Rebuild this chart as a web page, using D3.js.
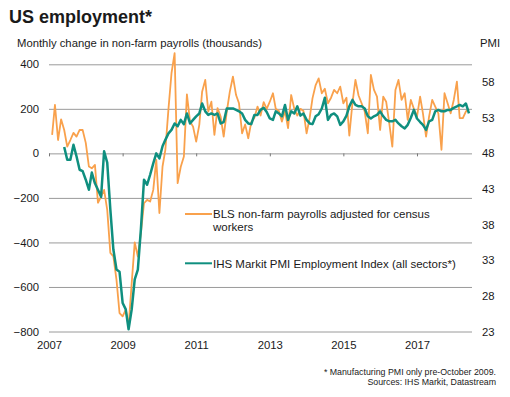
<!DOCTYPE html>
<html>
<head>
<meta charset="utf-8">
<script src="https://cdn.jsdelivr.net/npm/d3@7"></script>
<style>
  body { margin: 0; background: #fff; }
  text { font-family: "Liberation Sans", Arial, sans-serif; fill: #1a1a1a; }
</style>
</head>
<body>
<div class="chart-area"></div>
<script>
// monthly data, payrolls start Feb 2007, PMI starts Jun 2007
let payrollStart = new Date(2007, 1, 1);
let payrolls = [83, 218, 60, 153, 105, 30, 60, 92, 75, 105, 105, 47, -59, -67, -52, -222, -194, -164, -254, -447,
  -463, -568, -717, -732, -702, -777, -583, -400, -463, -358, -224, -209, -216, -164, -29, -268, -59, 16, 200, 360,
  450, -134, -60, -14, 265, 143, 120, 53, 128, 277, 330, 188, 232, 83, 203, 165, 75, 188, 277, 345,
  262, 225, 90, 130, 68, 140, 160, 210, 170, 230, 200, 232, 270, 200, 190, 143, 190, 113, 262, 200,
  170, 200, 190, 90, 160, 248, 307, 337, 270, 290, 225, 250, 285, 270, 300, 225, 250, 80, 225, 330,
  260, 225, 188, 90, 352, 285, 255, 105, 255, 232, 135, 30, 285, 330, 240, 270, 150, 240, 200, 165,
  255, 180, 75, 165, 240, 210, 180, 16, 270, 225, 180, 240, 322, 158, 158, 188, 200];

let pmiStart = new Date(2007, 5, 1);
let pmi = [48.9, 47.1, 47.1, 49.2, 47.6, 45.7, 45.5, 44.3, 42.9, 45.3, 43.8, 42.9, 41.9, 48.3, 46.7, 40.1,
  34.5, 31.7, 31.4, 27.0, 26.1, 23.3, 26.1, 30.3, 31.7, 37.3, 44.3, 43.6, 45.0, 46.6, 48.0, 47.3,
  49.0, 49.9, 50.8, 51.3, 52.2, 51.8, 52.7, 52.1, 53.6, 52.2, 52.7, 53.2, 53.6, 55.0, 53.9, 53.4,
  53.6, 53.4, 53.6, 52.2, 52.4, 54.3, 54.3, 54.3, 54.1, 53.9, 53.6, 52.7, 52.2, 52.1, 53.4, 53.4,
  54.1, 54.4, 53.8, 52.9, 52.7, 53.9, 53.6, 53.2, 54.8, 52.7, 53.9, 53.6, 54.6, 53.3, 53.6, 52.7,
  52.2, 52.1, 53.2, 53.5, 54.3, 55.8, 52.7, 53.4, 53.6, 53.2, 52.0, 52.5, 53.3, 54.6, 55.5, 54.8,
  54.6, 54.6, 54.3, 53.2, 52.9, 53.2, 53.4, 53.9, 53.2, 52.7, 52.5, 52.5, 52.7, 52.2, 51.8, 51.5,
  52.0, 53.0, 54.1, 52.9, 52.4, 52.0, 51.3, 52.5, 52.7, 53.9, 54.1, 53.9, 53.9, 54.1, 54.1, 54.4,
  54.6, 54.8, 54.6, 55.0, 53.6];

let leftTicks = [400, 200, 0, -200, -400, -600, -800];
let rightTicks = [58, 53, 48, 43, 38, 33, 28, 23];
let yearTicks = [2007, 2009, 2011, 2013, 2015, 2017];

let payrollData = payrolls.map((v, i) => ({date: d3.timeMonth.offset(payrollStart, i), value: v}));
let pmiData = pmi.map((v, i) => ({date: d3.timeMonth.offset(pmiStart, i), value: v}));

let outerWidth = 510, outerHeight = 397;
let plotLeft = 49, plotRight = 472, plotTop = 64.3, plotBottom = 331.5;

let svg = d3.select('.chart-area').append('svg')
  .attr('width', outerWidth)
  .attr('height', outerHeight);

let xScale = d3.scaleTime()
  .domain([new Date(2007, 0, 1), new Date(2018, 6, 1)])
  .range([plotLeft, plotRight]);

let yScale = d3.scaleLinear()
  .domain([-800, 400])
  .range([plotBottom, plotTop]);

// PMI 48 sits on the zero line, 25 points span 800k
let yRight = d3.scaleLinear()
  .domain([23, 60.5])
  .range([plotBottom, plotTop]);

// gridlines + left labels
let yAxis = d3.axisLeft(yScale).tickValues(leftTicks).tickSize(-(plotRight - plotLeft)).tickPadding(10);
let yaxis = svg.append('g')
  .attr('transform', `translate(${plotLeft},0)`)
  .call(yAxis);
yaxis.select('.domain').remove();
yaxis.selectAll('.tick line').attr('stroke', '#9a9a9a').attr('stroke-width', 1);
yaxis.selectAll('.tick text').attr('font-size', 11.3).attr('x', -10);

let yAxisR = d3.axisRight(yRight).tickValues(rightTicks).tickSize(0).tickPadding(10);
let yaxisR = svg.append('g')
  .attr('transform', `translate(${plotRight},0)`)
  .call(yAxisR);
yaxisR.select('.domain').remove();
yaxisR.selectAll('.tick text').attr('font-size', 11.3);

// small year ticks on the zero line
let xTicks = svg.append('g')
  .attr('transform', `translate(0,${yScale(0)})`)
  .call(d3.axisBottom(xScale).tickValues(yearTicks.map(y => new Date(y, 0, 1))).tickSize(3).tickFormat(''));
xTicks.select('.domain').remove();
xTicks.selectAll('.tick line').attr('stroke', '#777');

let xLabels = svg.append('g')
  .attr('transform', `translate(0,${plotBottom})`)
  .call(d3.axisBottom(xScale).tickValues(yearTicks.map(y => new Date(y, 0, 1))).tickSize(0).tickPadding(9).tickFormat(d3.timeFormat('%Y')));
xLabels.select('.domain').remove();
xLabels.selectAll('.tick text').attr('font-size', 11.3);

svg.selectAll('.tick text').attr('fill', '#1a1a1a');

// lines
let payLine = d3.line()
  .x(d => xScale(d.date))
  .y(d => yScale(d.value));

let pmiLine = d3.line()
  .x(d => xScale(d.date))
  .y(d => yRight(d.value));

let orange = '#f9a14c', teal = '#0f8f7f';

svg.append('path')
  .datum(payrollData)
  .attr('fill', 'none')
  .attr('stroke', orange)
  .attr('stroke-width', 1.8)
  .attr('stroke-linejoin', 'round')
  .attr('d', payLine);

svg.append('path')
  .datum(pmiData)
  .attr('fill', 'none')
  .attr('stroke', teal)
  .attr('stroke-width', 2.5)
  .attr('stroke-linejoin', 'round')
  .attr('d', pmiLine);

// titles
svg.append('text')
  .attr('x', 9).attr('y', 23.3)
  .attr('font-size', 18)
  .attr('font-weight', 'bold')
  .text('US employment*');

svg.append('text')
  .attr('x', 17).attr('y', 46.6)
  .attr('font-size', 11.3)
  .text('Monthly change in non-farm payrolls (thousands)');

svg.append('text')
  .attr('x', 480).attr('y', 46.6)
  .attr('font-size', 11.3)
  .text('PMI');

// legend
let legend = svg.append('g');
legend.append('line')
  .attr('x1', 185).attr('x2', 212).attr('y1', 214).attr('y2', 214)
  .attr('stroke', orange).attr('stroke-width', 2);
legend.append('text')
  .attr('x', 213).attr('y', 218.3)
  .attr('font-size', 11.5)
  .text('BLS non-farm payrolls adjusted for census');
legend.append('text')
  .attr('x', 213).attr('y', 230.8)
  .attr('font-size', 11.5)
  .text('workers');
legend.append('line')
  .attr('x1', 185).attr('x2', 212).attr('y1', 263.3).attr('y2', 263.3)
  .attr('stroke', teal).attr('stroke-width', 2);
legend.append('text')
  .attr('x', 213).attr('y', 267.5)
  .attr('font-size', 11.5)
  .text('IHS Markit PMI Employment Index (all sectors*)');

// footnote
svg.append('text')
  .attr('x', 496).attr('y', 375)
  .attr('font-size', 8.8)
  .attr('text-anchor', 'end')
  .text('* Manufacturing PMI only pre-October 2009.');
svg.append('text')
  .attr('x', 496).attr('y', 384.5)
  .attr('font-size', 8.8)
  .attr('text-anchor', 'end')
  .text('Sources: IHS Markit, Datastream');
</script>
</body>
</html>
